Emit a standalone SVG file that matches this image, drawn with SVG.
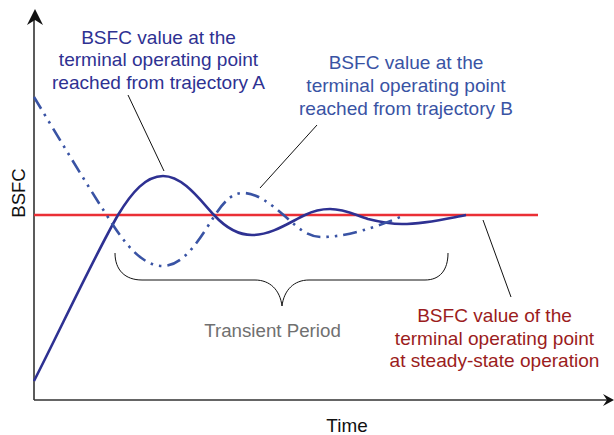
<svg xmlns="http://www.w3.org/2000/svg" width="614" height="435" viewBox="0 0 614 435">
<style>
text{font-family:"Liberation Sans",Arial,sans-serif;font-size:17.5px;text-anchor:middle}
.axis{stroke:#333;stroke-width:1.6;fill:none}
.lead{stroke:#111;stroke-width:1;fill:none}
.a{stroke:#2e3192;stroke-width:2.6;fill:none}
.b{stroke:#3953a4;stroke-width:2.6;fill:none;stroke-dasharray:14 6 2.5 6 2.5 6}
</style>
<rect width="614" height="435" fill="#fff"/>
<g id="axes">
<path class="axis" d="M34,400 V16 M34,400 H608"/>
<path d="M35,9 L43,25 L35,20 L27,25 Z" fill="#111"/>
<path d="M614,400 L603,394 L607,400 L603,406 Z" fill="#111"/>
<text x="0" y="0" transform="translate(25,193) rotate(-90) scale(1.06,1)" fill="#111">BSFC</text>
<text x="0" y="432" transform="translate(347,0) scale(1.08,1)" fill="#111">Time</text>
</g>
<g id="steady-line">
<path d="M34,215 H538" stroke="#ea2f35" stroke-width="2.6" fill="none"/>
</g>
<g id="trajectory-a">
<path class="a" d="M34,381 C60,330 95,255 118,215 C132,192 146,176 163,176 C183,176 200,200 214,215 C226,228 238,235 252,235 C272,235 290,222 305,215 C315,210 322,209 330,209 C345,209 355,215 368,219 C380,222 390,224 402,224 C425,224 445,219 466,215"/>
</g>
<g id="trajectory-b">
<path class="b" d="M34,97 C60,140 90,190 115,228 C130,250 145,266 163,266 C185,266 202,235 215,215 C225,200 233,193 243,193 C258,193 272,205 287,218 C298,228 308,237 322,237 C345,237 375,228 405,215"/>
</g>
<g id="connectors">
<path class="lead" d="M128,95 L164,171"/>
<path class="lead" d="M260,188 L317,125"/>
<path class="lead" d="M483,220 L511,297"/>
<path class="lead" d="M115,253 C115,270 125,280 142,280 L255,280 C270,280 280,290 282,306 C284,290 294,280 309,280 L425,280 C440,280 448,270 448,253"/>
</g>
<g id="label-a" transform="translate(158.5,0) scale(1.09,1)">
<text x="0" y="44" fill="#2e3192">BSFC value at the</text>
<text x="0" y="66.5" fill="#2e3192">terminal operating point</text>
<text x="0" y="89" fill="#2e3192">reached from trajectory A</text>
</g>
<g id="label-b" transform="translate(406,0) scale(1.09,1)">
<text x="0" y="69" fill="#3953a4">BSFC value at the</text>
<text x="0" y="92" fill="#3953a4">terminal operating point</text>
<text x="0" y="115" fill="#3953a4">reached from trajectory B</text>
</g>
<g id="label-transient" transform="translate(272.5,0) scale(1.07,1)">
<text x="0" y="337" fill="#707070">Transient Period</text>
</g>
<g id="label-steady" transform="translate(494.5,0) scale(1.09,1)">
<text x="0" y="322" fill="#9b1c20">BSFC value of the</text>
<text x="0" y="345" fill="#9b1c20">terminal operating point</text>
<text x="0" y="367" fill="#9b1c20">at steady-state operation</text>
</g>
</svg>
